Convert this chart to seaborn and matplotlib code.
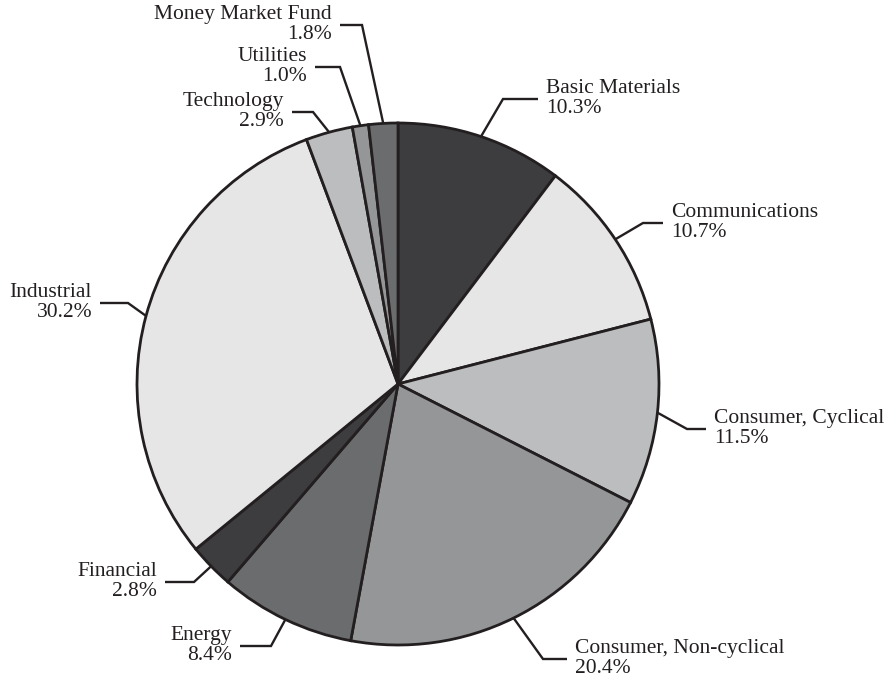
import numpy as np
import matplotlib
matplotlib.use("Agg")
import matplotlib.pyplot as plt
import seaborn as sns

# ── Data ───────────────────────────────────────────────────────────────────
sectors = ["Basic Materials", "Communications", "Consumer, Cyclical",
           "Consumer, Non-cyclical", "Energy", "Financial", "Industrial",
           "Technology", "Utilities", "Money Market Fund"]
weights = [10.3, 10.7, 11.5, 20.4, 8.4, 2.8, 30.2, 2.9, 1.0, 1.8]

# ── Layout (pixel coords, y down) ─────────────────────────────────────────
CENTER = (398, 384)
RADIUS = 261
# elbow point, end of horizontal stub, side of label
elbows = [(503, 99), (643, 223), (687, 429), (543, 659), (271, 646),
          (194, 582), (128, 303), (313, 112), (340, 67), (362, 25)]
stub_ends = [538, 663, 706, 567, 240, 165, 100, 292, 315, 340]

INK = "#231f20"
greys = sns.color_palette(["#3d3d3f", "#e6e6e7", "#bcbdbf", "#959698", "#6b6c6e"])
colors = [greys[i % len(greys)] for i in range(len(weights))]

sns.set_theme(style="white")
plt.rcParams["font.family"] = ["Liberation Serif", "DejaVu Serif"]

fig = plt.figure(figsize=(8.88, 6.84), dpi=100)
ax = fig.add_axes([0, 0, 1, 1])

wedges, _ = ax.pie(weights, colors=colors, startangle=-90, counterclock=True,
                   radius=RADIUS, center=CENTER, frame=True,
                   wedgeprops=dict(edgecolor=INK, linewidth=2.0))
ax.set_xlim(0, 888)
ax.set_ylim(684, 0)
ax.set_aspect("equal")
ax.axis("off")

for w, name, val, (ex, ey), sx in zip(wedges, sectors, weights, elbows, stub_ends):
    mid = np.deg2rad((w.theta1 + w.theta2) / 2)
    px = CENTER[0] + RADIUS * np.cos(mid)
    py = CENTER[1] + RADIUS * np.sin(mid)
    ax.plot([px, ex, sx], [py, ey, ey], color=INK, lw=1.7,
            solid_capstyle="butt", solid_joinstyle="miter")
    right = sx > ex
    tx = sx + 8 if right else sx - 8
    ha = "left" if right else "right"
    ax.text(tx, ey - 6, name, ha=ha, va="baseline", fontsize=15.5, color=INK)
    ax.text(tx, ey + 14, f"{val:.1f}%", ha=ha, va="baseline", fontsize=15.5,
            color=INK)

fig.savefig("out.png", dpi=100)
plt.close(fig)
